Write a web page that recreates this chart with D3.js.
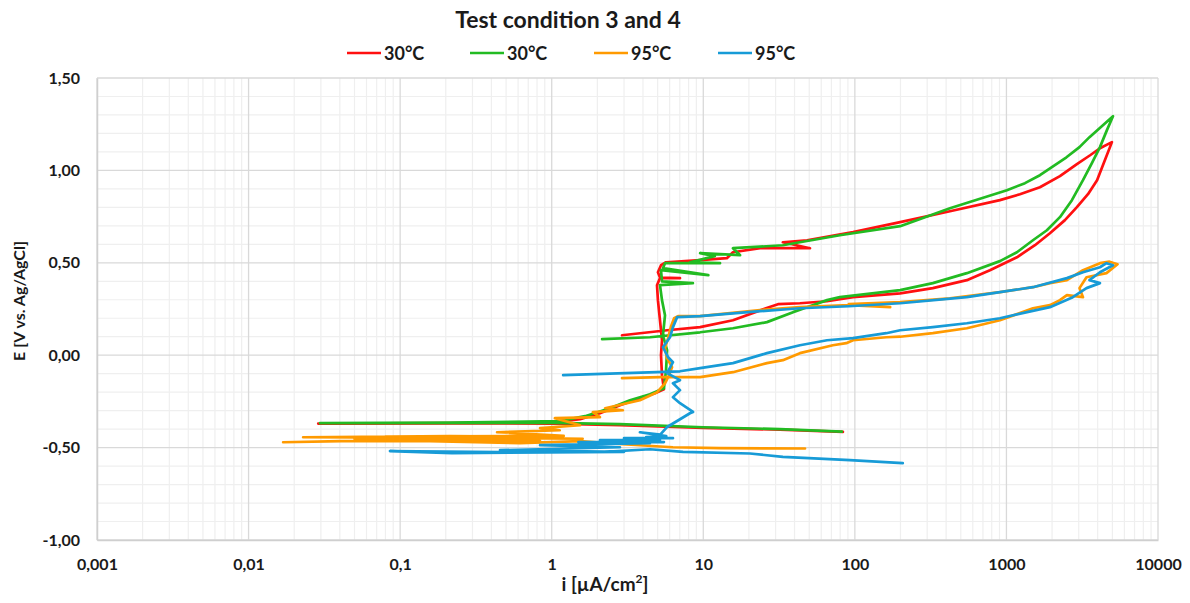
<!DOCTYPE html>
<html>
<head>
<meta charset="utf-8">
<script src="https://cdn.jsdelivr.net/npm/d3@7"></script>
<style>
  html, body { margin: 0; padding: 0; background: #fff; }
  svg { display: block; }
  text { font-family: Lato, "Open Sans", sans-serif; font-weight: bold; fill: #1a1a1a; }
</style>
</head>
<body>
<svg id="chart" width="1190" height="603"></svg>
<script>
// Cyclic polarization scans: [current density µA/cm², potential V vs Ag/AgCl]
const scan30a = [
  [83.4,-0.415],[32,-0.403],[10,-0.393],[2.82,-0.378],[1.0,-0.370],[0.213,-0.369],[0.0288,-0.370],
  [0.213,-0.368],[1.05,-0.363],[1.54,-0.346],[2.08,-0.314],[2.82,-0.271],[3.82,-0.233],[4.8,-0.206],[5.5,-0.184],
  [5.34,-0.108],[5.26,0.0],[5.34,0.081],[5.18,0.189],[5.02,0.298],[4.95,0.379],[5.18,0.417],[7.02,0.417],[5.18,0.420],
  [5.02,0.449],[5.26,0.487],[5.68,0.503],[9.53,0.514],[14.3,0.525],[15.7,0.557],[23.7,0.579],[50.6,0.579],[33.5,0.611],
  [48.4,0.622],[97.3,0.666],[199,0.720],[424,0.779],[906,0.839],[1228,0.871],[1663,0.909],[2254,0.969],[2917,1.034],
  [3565,1.082],[4140,1.120],[4966,1.153],
  [4540,1.071],[3963,0.947],[3451,0.871],[2917,0.801],[2432,0.731],[1936,0.660],[1542,0.595],[1173,0.530],
  [778,0.460],[548,0.406],[327,0.363],[199,0.335],[97.3,0.314],
  [65.5,0.292],[43.4,0.281],[31.1,0.276],[25.9,0.254],[15.7,0.189],[9.53,0.152],[5.77,0.135],[2.91,0.108]
];
const scan30b = [
  [82,-0.414],[32,-0.400],[10,-0.390],[2.82,-0.373],[1.0,-0.366],[0.0296,-0.368],[0.213,-0.365],[1.13,-0.357],
  [1.66,-0.330],[2.42,-0.287],[3.28,-0.244],[4.45,-0.211],[5.5,-0.179],[5.68,-0.081],[5.77,0.027],[5.42,0.108],
  [5.59,0.216],[5.34,0.298],[5.18,0.379],[8.54,0.390],[5.34,0.400],[5.26,0.460],[10.8,0.433],[5.42,0.471],
  [5.59,0.498],[12.9,0.498],[8.17,0.503],[11.9,0.536],[9.53,0.552],[17.5,0.541],[15.7,0.579],[33.5,0.595],
  [79.6,0.649],[199,0.698],[424,0.795],[1007,0.893],[1325,0.931],[1663,0.974],[2489,1.071],[3034,1.126],
  [3532,1.180],[5047,1.293],
  [4603,1.218],[4140,1.126],[3664,1.039],[3199,0.947],[2704,0.839],[2254,0.747],[1849,0.676],[1496,0.622],
  [1173,0.557],[906,0.509],[548,0.444],[327,0.390],[199,0.352],
  [79.6,0.314],[65.5,0.298],[48.4,0.260],[39.1,0.233],[26.3,0.179],[15.7,0.146],[9.53,0.124],[4.45,0.097],[2.15,0.087]
];
const scan95a = [
  [46.9,-0.505],[12.9,-0.503],[6.31,-0.498],[2.95,-0.482],[1.54,-0.465],[0.618,-0.476],[0.157,-0.465],[0.0401,-0.465],
  [0.0169,-0.471],[0.1,-0.460],[0.618,-0.455],[0.837,-0.465],[0.05,-0.452],[0.9,-0.450],[0.0229,-0.444],
  [0.213,-0.438],[1.13,-0.444],[0.3,-0.447],[1.6,-0.452],[0.08,-0.441],[1.2,-0.437],
  [0.436,-0.417],[1.13,-0.406],[0.837,-0.395],[1.54,-0.379],[1.05,-0.341],[2.08,-0.335],[1.87,-0.308],[2.95,-0.298],
  [2.25,-0.287],[3.82,-0.244],[4.96,-0.200],[5.59,-0.152],[5.86,-0.119],[6.22,-0.065],[5.77,-0.016],[5.59,0.038],
  [5.86,0.092],[6.13,0.157],[6.42,0.200],[6.81,0.211],[9.53,0.211],[23.7,0.244],[43.4,0.260],[91.2,0.271],
  [171,0.260],[91.2,0.276],[199,0.287],[424,0.308],[906,0.341],[1496,0.368],[1936,0.390],[2506,0.406],
  [3199,0.460],[4140,0.498],[4786,0.506],[5408,0.492],
  [4571,0.444],[3375,0.422],[3034,0.363],[3199,0.314],[2506,0.325],[2254,0.298],[1936,0.271],[1496,0.254],
  [906,0.189],[548,0.146],[327,0.119],[199,0.100],[161,0.097],[97.3,0.081],[87.7,0.065],[71.6,0.054],
  [43.4,0.011],[33.5,-0.027],[26.3,-0.043],[15.7,-0.092],[9.53,-0.119],[5.18,-0.119],[2.91,-0.124]
];
const scan95b = [
  [207,-0.584],[92.8,-0.568],[33.5,-0.550],[20.3,-0.532],[7.35,-0.523],[4.45,-0.509],[2.08,-0.525],[0.456,-0.525],
  [0.0857,-0.519],[0.22,-0.530],[3.0,-0.523],[0.456,-0.514],[2.82,-0.498],[0.837,-0.487],[4.45,-0.476],
  [1.5,-0.470],[5.5,-0.470],[2.08,-0.460],[5.18,-0.460],[3.0,-0.449],[6.31,-0.449],[4.2,-0.443],[5.7,-0.438],
  [3.82,-0.417],[5.2,-0.430],[5.74,-0.390],[8.17,-0.314],[8.56,-0.307],[7.02,-0.260],
  [6.31,-0.227],[7.02,-0.189],[6.31,-0.152],
  [7.02,-0.135],[5.77,-0.097],[6.31,-0.038],[5.86,-0.011],[5.42,0.043],[6.03,0.097],[6.31,0.152],[6.72,0.206],
  [9.53,0.211],[23.7,0.238],[43.4,0.254],[91.2,0.265],[199,0.281],[548,0.314],[906,0.341],[1496,0.368],
  [2506,0.417],[3199,0.449],[4140,0.476],[4571,0.498],[5047,0.487],
  [4140,0.449],[3532,0.406],[4140,0.390],[3375,0.363],[2741,0.314],[1936,0.260],[1368,0.233],[906,0.200],
  [548,0.173],[327,0.152],[199,0.135],[161,0.119],[97.3,0.092],[65.5,0.081],[43.4,0.054],[26.3,0.011],
  [15.7,-0.043],[9.53,-0.070],[7.02,-0.087],[1.19,-0.108]
];

const seriesNames = ["30°C", "30°C", "95°C", "95°C"];
const seriesData = [scan30a, scan30b, scan95a, scan95b];
const seriesColors = ["#ff1010", "#22bb22", "#ff9a00", "#179bd7"];

const xTickValues = [0.001, 0.01, 0.1, 1, 10, 100, 1000, 10000];
const xTickLabels = ["0,001", "0,01", "0,1", "1", "10", "100", "1000", "10000"];
const yTickValues = [-1.0, -0.5, 0.0, 0.5, 1.0, 1.5];
const yTickLabels = ["-1,00", "-0,50", "0,00", "0,50", "1,00", "1,50"];

const chartTitle = "Test condition 3 and 4";

const svg = d3.select("#chart");
const plot = { left: 97, right: 1158, top: 78, bottom: 540 };

const x = d3.scaleLog().domain([0.001, 10000]).range([plot.left, plot.right]);
const y = d3.scaleLinear().domain([-1, 1.5]).range([plot.bottom, plot.top]);

// Minor gridlines
const minorX = [];
for (let e = -3; e < 4; e++) for (let k = 2; k <= 9; k++) minorX.push(k * Math.pow(10, e));
const minorY = d3.range(-10, 16).map(v => v / 10).filter(v => Math.abs(v * 2 - Math.round(v * 2)) > 1e-6);

const grid = svg.append("g");
grid.selectAll("line.mx").data(minorX).join("line")
  .attr("x1", d => x(d)).attr("x2", d => x(d))
  .attr("y1", plot.top).attr("y2", plot.bottom)
  .attr("stroke", "#efefef").attr("stroke-width", 1.2);
grid.selectAll("line.my").data(minorY).join("line")
  .attr("x1", plot.left).attr("x2", plot.right)
  .attr("y1", d => y(d)).attr("y2", d => y(d))
  .attr("stroke", "#efefef").attr("stroke-width", 1.2);
grid.selectAll("line.Mx").data(xTickValues).join("line")
  .attr("x1", d => x(d)).attr("x2", d => x(d))
  .attr("y1", plot.top).attr("y2", plot.bottom)
  .attr("stroke", "#d9d9d9").attr("stroke-width", 1.3);
grid.selectAll("line.My").data(yTickValues).join("line")
  .attr("x1", plot.left).attr("x2", plot.right)
  .attr("y1", d => y(d)).attr("y2", d => y(d))
  .attr("stroke", "#d9d9d9").attr("stroke-width", 1.3);

// Axes (no tick marks, labels only)
const xAxis = d3.axisBottom(x).tickValues(xTickValues)
  .tickFormat((d, i) => xTickLabels[i]).tickSize(0).tickPadding(19);
const yAxis = d3.axisLeft(y).tickValues(yTickValues)
  .tickFormat((d, i) => yTickLabels[i]).tickSize(0).tickPadding(17);

const gx = svg.append("g").attr("transform", `translate(0,${plot.bottom})`).call(xAxis);
const gy = svg.append("g").attr("transform", `translate(${plot.left},0)`).call(yAxis);
[gx, gy].forEach(g => {
  g.select(".domain").attr("stroke", "#cfcfcf").attr("stroke-width", 1.5);
  g.selectAll("text").attr("font-size", 16).attr("font-family", "Lato, sans-serif")
    .attr("font-weight", "bold").attr("fill", "#1a1a1a");
});

// Series
const line = d3.line().x(d => x(d[0])).y(d => y(d[1]));
svg.append("g").selectAll("path").data(seriesData).join("path")
  .attr("d", line)
  .attr("fill", "none")
  .attr("stroke", (d, i) => seriesColors[i])
  .attr("stroke-width", 2.7)
  .attr("stroke-linejoin", "round")
  .attr("stroke-linecap", "round");

// Title
svg.append("text").attr("x", 568).attr("y", 28).attr("text-anchor", "middle")
  .attr("font-size", 23).text(chartTitle);

// Legend
const legendX = [347, 470, 594, 718];
const legend = svg.append("g");
seriesNames.forEach((name, i) => {
  legend.append("line").attr("x1", legendX[i]).attr("x2", legendX[i] + 34)
    .attr("y1", 53).attr("y2", 53).attr("stroke", seriesColors[i]).attr("stroke-width", 2.7);
  legend.append("text").attr("x", legendX[i] + 37).attr("y", 60)
    .attr("font-size", 18).text(name);
});

// Axis titles
const xTitle = svg.append("text").attr("x", 605).attr("y", 591).attr("text-anchor", "middle")
  .attr("font-size", 19);
xTitle.append("tspan").text("i [µA/cm");
xTitle.append("tspan").attr("font-size", 12).attr("dy", -8).text("2");
xTitle.append("tspan").attr("dy", 8).text("]");

svg.append("text").attr("transform", "translate(25,301) rotate(-90)")
  .attr("text-anchor", "middle").attr("font-size", 16).text("E [V vs. Ag/AgCl]");
</script>
</body>
</html>
